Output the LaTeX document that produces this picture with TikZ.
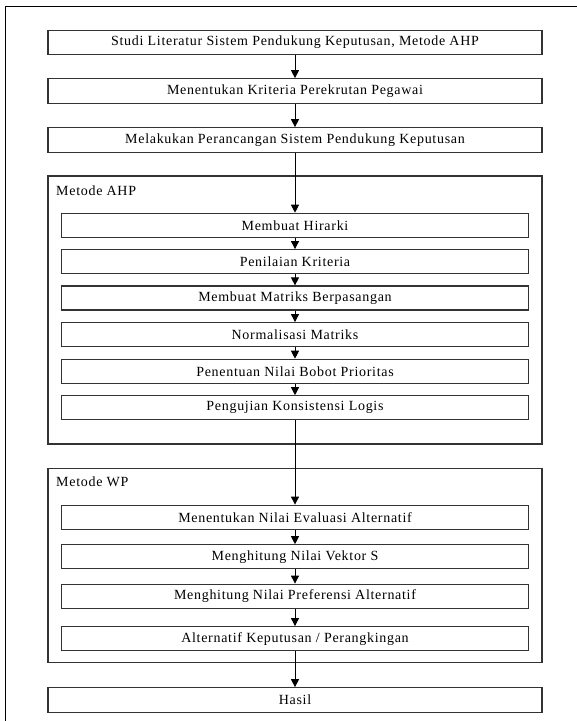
\documentclass[tikz,border=0pt]{standalone}
\usepackage{fontspec}
\setmainfont{Liberation Serif}[LetterSpace=5]
\usetikzlibrary{arrows.meta}
\begin{document}
\begin{tikzpicture}[x=1pt,y=-1pt,
  txt/.style={font=\fontsize{14}{16}\selectfont},
  outerbox/.style={draw=black!80, line width=1.2pt, minimum width=494pt, minimum height=24.5pt, inner sep=0pt, txt},
  innerbox/.style={draw=black!80, line width=1.2pt, minimum width=467.5pt, minimum height=24pt, inner sep=0pt, txt},
  groupbox/.style={draw=black!80, line width=1.2pt, minimum width=494pt, inner sep=0pt},
  grouplabel/.style={anchor=west, inner sep=0pt, txt},
  arr/.style={line width=0.9pt, -{Triangle[length=8pt,width=8pt]}},
  ln/.style={line width=0.9pt}
]
\useasboundingbox (0,0) rectangle (577,721);
\draw[line width=1pt] (5.5,721) -- (5.5,6) -- (577,6);

\node[outerbox] (b1) at (295,42.5) {Studi Literatur Sistem Pendukung Keputusan, Metode AHP};
\node[outerbox] (b2) at (295,91) {Menentukan Kriteria Perekrutan Pegawai};
\node[outerbox] (b3) at (295,140) {Melakukan Perancangan Sistem Pendukung Keputusan};

\node[groupbox, minimum height=268pt] (ahp) at (295,310) {};
\node[grouplabel] (ahplab) at (56,191) {Metode AHP};
\node[innerbox] (h1) at (295,225.3) {Membuat Hirarki};
\node[innerbox] (h2) at (295,261.7) {Penilaian Kriteria};
\node[innerbox] (h3) at (295,298) {Membuat Matriks Berpasangan};
\node[innerbox] (h4) at (295,334.7) {Normalisasi Matriks};
\node[innerbox] (h5) at (295,371.3) {Penentuan Nilai Bobot Prioritas};
\node[innerbox] (h6) at (295,407.8) {Pengujian Konsistensi Logis};

\node[groupbox, minimum height=194pt] (wp) at (295,565.7) {};
\node[grouplabel] (wplab) at (56,482) {Metode WP};
\node[innerbox] (w1) at (295,517.2) {Menentukan Nilai Evaluasi Alternatif};
\node[innerbox] (w2) at (295,556.8) {Menghitung Nilai Vektor S};
\node[innerbox] (w3) at (295,596.2) {Menghitung Nilai Preferensi Alternatif};
\node[innerbox] (w4) at (295,638.7) {Alternatif Keputusan / Perangkingan};

\node[outerbox] (hasil) at (295,700) {Hasil};

\draw[arr] (b1) -- (b2);
\draw[arr] (b2) -- (b3);
\draw[arr] (b3) -- (h1);
\draw[arr] (h1) -- (h2);
\draw[arr] (h2) -- (h3);
\draw[arr] (h3) -- (h4);
\draw[arr] (h4) -- (h5);
\draw[arr] (h5) -- (h6);
\draw[arr] (h6) -- (w1);
\draw[arr] (w1) -- (w2);
\draw[arr] (w2) -- (w3);
\draw[arr] (w3) -- (w4);
\draw[arr] (w4) -- (hasil);
\end{tikzpicture}
\end{document}
